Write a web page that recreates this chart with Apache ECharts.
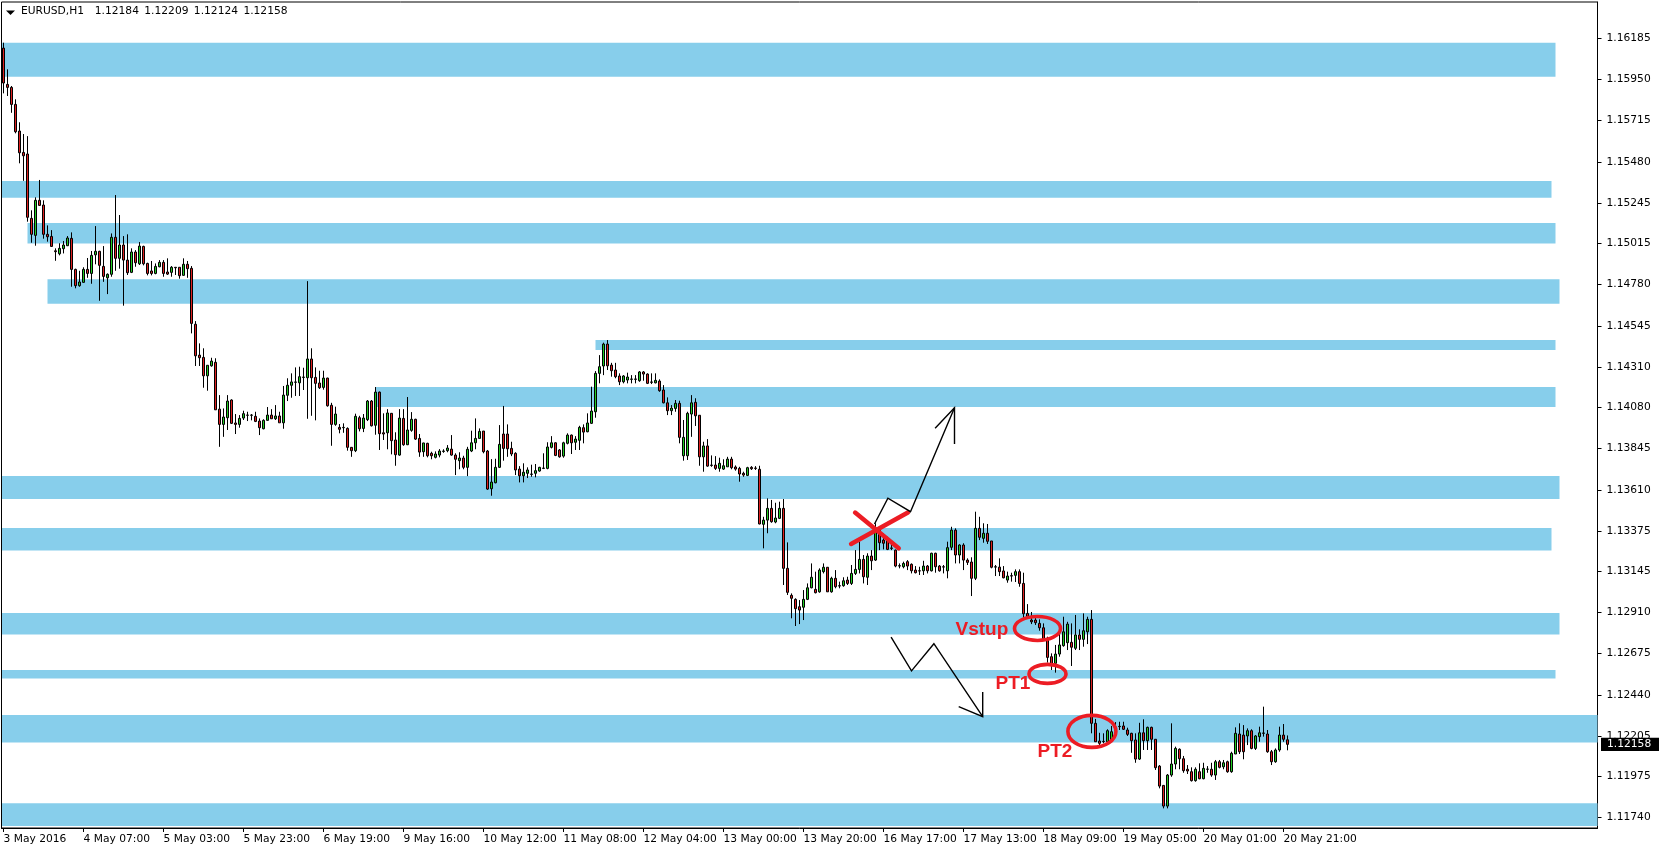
<!DOCTYPE html>
<html><head><meta charset="utf-8">
<script src="https://cdn.jsdelivr.net/npm/echarts@6/dist/echarts.min.js"></script>
<style>html,body{margin:0;padding:0;background:#fff;}#c{width:1659px;height:852px;}</style>
</head><body><div id="c"></div>
<script>
const symbolName = 'EURUSD,H1';
const xTickLabels = ['3 May 2016','4 May 07:00','5 May 03:00','5 May 23:00','6 May 19:00','9 May 16:00','10 May 12:00','11 May 08:00','12 May 04:00','13 May 00:00','13 May 20:00','16 May 17:00','17 May 13:00','18 May 09:00','19 May 05:00','20 May 01:00','20 May 21:00'];
const barsPerLabel = 20;
const totalSlots = 399;
const yTickLabels = ['1.16185','1.15950','1.15715','1.15480','1.15245','1.15015','1.14780','1.14545','1.14310','1.14080','1.13845','1.13610','1.13375','1.13145','1.12910','1.12675','1.12440','1.12205','1.11975','1.11740'];
const yMin = 1.11681, yMax = 1.16392;

const open = [
1.16129,1.15922,1.15905,1.15808,1.15656,1.15534,1.15525,1.15158,1.15061,1.15261,
1.15234,1.15067,1.15055,1.14973,1.14956,1.14985,1.15002,1.15044,1.14867,1.14774,
1.14793,1.14867,1.14844,1.14950,1.14970,1.14884,1.14819,1.14839,1.15050,1.14930,
1.15006,1.14920,1.14850,1.14966,1.14899,1.14998,1.14901,1.14858,1.14844,1.14882,
1.14907,1.14852,1.14850,1.14879,1.14879,1.14833,1.14896,1.14873,1.14554,1.14378,
1.14365,1.14260,1.14317,1.14337,1.14070,1.13983,1.14021,1.14122,1.13991,1.13983,
1.14019,1.14036,1.14035,1.14029,1.14002,1.13958,1.14006,1.14036,1.14015,1.14031,
1.13992,1.14149,1.14206,1.14223,1.14220,1.14251,1.14249,1.14356,1.14251,1.14219,
1.14194,1.14247,1.14092,1.13983,1.13966,1.13964,1.13960,1.13852,1.13833,1.14021,
1.13960,1.14010,1.14116,1.13978,1.14167,1.13935,1.13935,1.14046,1.13894,1.13808,
1.14017,1.13867,1.13949,1.14012,1.13903,1.13827,1.13875,1.13818,1.13795,1.13808,
1.13829,1.13833,1.13842,1.13808,1.13776,1.13791,1.13738,1.13831,1.13878,1.13903,
1.13945,1.13831,1.13616,1.13650,1.13738,1.13928,1.13928,1.13846,1.13818,1.13728,
1.13690,1.13704,1.13698,1.13704,1.13717,1.13732,1.13732,1.13852,1.13878,1.13837,
1.13802,1.13875,1.13922,1.13881,1.13892,1.13964,1.13941,1.13989,1.14055,1.14274,
1.14316,1.14441,1.14321,1.14293,1.14259,1.14226,1.14236,1.14240,1.14242,1.14232,
1.14282,1.14270,1.14225,1.14220,1.14230,1.14179,1.14106,1.14061,1.14074,1.14103,
1.13804,1.13804,1.14042,1.14109,1.14035,1.13798,1.13860,1.13751,1.13751,1.13732,
1.13728,1.13741,1.13785,1.13740,1.13732,1.13704,1.13692,1.13738,1.13734,1.13727,
1.13413,1.13437,1.13504,1.13426,1.13447,1.13504,1.13162,1.13008,1.12985,1.12943,
1.12940,1.12985,1.13051,1.13042,1.13028,1.13143,1.13168,1.13028,1.13105,1.13063,
1.13063,1.13095,1.13076,1.13133,1.13156,1.13213,1.13111,1.13232,1.13209,1.13380,
1.13323,1.13327,1.13278,1.13266,1.13177,1.13171,1.13200,1.13185,1.13152,1.13148,
1.13148,1.13175,1.13148,1.13248,1.13175,1.13171,1.13148,1.13282,1.13380,1.13238,
1.13295,1.13209,1.13198,1.13105,1.13390,1.13333,1.13362,1.13318,1.13171,1.13169,
1.13147,1.13095,1.13120,1.13122,1.13143,1.13076,1.12905,1.12867,1.12867,1.12848,
1.12823,1.12763,1.12658,1.12620,1.12673,1.12721,1.12738,1.12740,1.12706,1.12782,
1.12757,1.12800,1.12871,1.12278,1.12177,1.12173,1.12173,1.12183,1.12255,1.12259,
1.12263,1.12240,1.12221,1.12183,1.12074,1.12224,1.12179,1.12255,1.12187,1.12034,
1.11924,1.11806,1.11983,1.12046,1.12130,1.12076,1.12016,1.12002,1.11951,1.12002,
1.11962,1.12016,1.12016,1.11983,1.12059,1.12030,1.12059,1.12002,1.12103,1.12217,
1.12211,1.12206,1.12236,1.12135,1.12202,1.12221,1.12217,1.12116,1.12059,1.12126,
1.12211,1.12184
];
const close = [
1.15930,1.15905,1.15808,1.15652,1.15532,1.15515,1.15164,1.15067,1.15261,1.15232,
1.15067,1.15053,1.14998,1.14968,1.14987,1.15006,1.15046,1.14867,1.14774,1.14795,
1.14867,1.14844,1.14947,1.14970,1.14890,1.14827,1.14839,1.15050,1.14930,1.15006,
1.14920,1.14848,1.14966,1.14905,1.15000,1.14899,1.14844,1.14844,1.14884,1.14907,
1.14844,1.14840,1.14879,1.14876,1.14831,1.14896,1.14871,1.14559,1.14374,1.14363,
1.14260,1.14320,1.14344,1.14066,1.13983,1.14025,1.14116,1.13989,1.13983,1.14017,
1.14044,1.14035,1.14036,1.14000,1.13964,1.14006,1.14036,1.14015,1.14031,1.13992,
1.14150,1.14206,1.14225,1.14225,1.14255,1.14253,1.14356,1.14249,1.14217,1.14192,
1.14247,1.14089,1.13983,1.14042,1.13955,1.13966,1.13852,1.13833,1.14029,1.13958,
1.14019,1.14116,1.13975,1.14167,1.13930,1.13928,1.14048,1.13890,1.13810,1.14019,
1.13867,1.13951,1.14012,1.13899,1.13825,1.13877,1.13804,1.13804,1.13814,1.13831,
1.13831,1.13848,1.13808,1.13784,1.13791,1.13738,1.13841,1.13878,1.13903,1.13943,
1.13827,1.13614,1.13654,1.13738,1.13869,1.13846,1.13844,1.13814,1.13723,1.13690,
1.13710,1.13723,1.13700,1.13719,1.13738,1.13734,1.13854,1.13878,1.13806,1.13798,
1.13878,1.13922,1.13878,1.13899,1.13966,1.13939,1.13991,1.14059,1.14274,1.14312,
1.14441,1.14317,1.14289,1.14255,1.14226,1.14259,1.14253,1.14242,1.14240,1.14282,
1.14270,1.14217,1.14223,1.14234,1.14175,1.14106,1.14061,1.14076,1.14103,1.13909,
1.13909,1.14046,1.14106,1.14032,1.13798,1.13860,1.13745,1.13749,1.13732,1.13761,
1.13747,1.13785,1.13736,1.13728,1.13700,1.13694,1.13736,1.13730,1.13732,1.13415,
1.13437,1.13504,1.13428,1.13449,1.13504,1.13162,1.13025,1.12991,1.12932,1.12924,
1.12985,1.13051,1.13111,1.13023,1.13152,1.13168,1.13028,1.13105,1.13057,1.13061,
1.13091,1.13076,1.13133,1.13156,1.13213,1.13114,1.13232,1.13205,1.13380,1.13308,
1.13305,1.13270,1.13276,1.13175,1.13175,1.13190,1.13175,1.13148,1.13137,1.13147,
1.13175,1.13148,1.13248,1.13171,1.13148,1.13169,1.13280,1.13380,1.13238,1.13295,
1.13209,1.13196,1.13105,1.13390,1.13339,1.13362,1.13316,1.13168,1.13169,1.13143,
1.13108,1.13118,1.13118,1.13143,1.13076,1.12903,1.12888,1.12857,1.12852,1.12823,
1.12759,1.12654,1.12620,1.12673,1.12725,1.12800,1.12844,1.12712,1.12782,1.12757,
1.12806,1.12871,1.12278,1.12173,1.12164,1.12175,1.12236,1.12230,1.12257,1.12261,
1.12244,1.12215,1.12179,1.12074,1.12224,1.12179,1.12255,1.12187,1.12025,1.11920,
1.11806,1.11983,1.12046,1.12135,1.12076,1.12008,1.12006,1.11951,1.12016,1.11962,
1.12021,1.12017,1.11983,1.12059,1.12027,1.12053,1.12002,1.12107,1.12221,1.12116,
1.12116,1.12236,1.12135,1.12206,1.12224,1.12223,1.12116,1.12059,1.12126,1.12211,
1.12187,1.12158
];
const low = [
1.15871,1.15856,1.15760,1.15643,1.15472,1.15372,1.15139,1.15019,1.15002,1.15230,
1.15042,1.15025,1.14996,1.14916,1.14947,1.14958,1.15000,1.14768,1.14759,1.14768,
1.14791,1.14819,1.14785,1.14896,1.14688,1.14796,1.14726,1.14825,1.14859,1.14871,
1.14660,1.14835,1.14846,1.14882,1.14892,1.14890,1.14833,1.14833,1.14839,1.14879,
1.14825,1.14835,1.14825,1.14835,1.14814,1.14831,1.14819,1.14502,1.14316,1.14316,
1.14192,1.14175,1.14312,1.14065,1.13855,1.13912,1.13951,1.13985,1.13928,1.13964,
1.14008,1.14002,1.14006,1.13996,1.13922,1.13955,1.14004,1.14014,1.14008,1.13992,
1.13958,1.14116,1.14135,1.14145,1.14145,1.14179,1.14015,1.14032,1.14006,1.14185,
1.14181,1.14084,1.13861,1.13975,1.13932,1.13935,1.13833,1.13798,1.13825,1.13943,
1.13939,1.14002,1.13971,1.13924,1.13837,1.13894,1.13841,1.13812,1.13747,1.13804,
1.13861,1.13865,1.13941,1.13894,1.13798,1.13798,1.13795,1.13784,1.13789,1.13795,
1.13821,1.13824,1.13804,1.13694,1.13727,1.13727,1.13688,1.13825,1.13841,1.13903,
1.13818,1.13609,1.13576,1.13647,1.13734,1.13776,1.13798,1.13802,1.13694,1.13652,
1.13652,1.13677,1.13684,1.13681,1.13713,1.13728,1.13727,1.13846,1.13802,1.13793,
1.13793,1.13869,1.13814,1.13837,1.13837,1.13875,1.13938,1.13985,1.14021,1.14217,
1.14264,1.14293,1.14255,1.14246,1.14207,1.14217,1.14217,1.14217,1.14217,1.14226,
1.14232,1.14213,1.14213,1.14217,1.14169,1.14103,1.14036,1.14036,1.14055,1.13875,
1.13776,1.13780,1.13912,1.13974,1.13747,1.13713,1.13741,1.13741,1.13723,1.13713,
1.13723,1.13741,1.13727,1.13719,1.13656,1.13684,1.13688,1.13723,1.13723,1.13413,
1.13276,1.13362,1.13422,1.13419,1.13443,1.13067,1.13010,1.12877,1.12833,1.12844,
1.12867,1.12981,1.13048,1.13019,1.13023,1.13133,1.13027,1.13023,1.13048,1.13048,
1.13057,1.13067,1.13067,1.13124,1.13133,1.13076,1.13067,1.13152,1.13204,1.13266,
1.13270,1.13266,1.13266,1.13168,1.13162,1.13162,1.13152,1.13133,1.13133,1.13124,
1.13124,1.13133,1.13144,1.13137,1.13143,1.13133,1.13105,1.13266,1.13190,1.13190,
1.13152,1.13181,1.13004,1.13095,1.13323,1.13308,1.13301,1.13162,1.13118,1.13118,
1.13105,1.13080,1.13086,1.13084,1.13057,1.12877,1.12877,1.12844,1.12839,1.12806,
1.12753,1.12624,1.12582,1.12567,1.12658,1.12715,1.12696,1.12605,1.12696,1.12696,
1.12715,1.12730,1.12221,1.12172,1.12154,1.12164,1.12164,1.12173,1.12223,1.12240,
1.12240,1.12206,1.12110,1.12053,1.12069,1.12126,1.12126,1.12126,1.12012,1.11907,
1.11793,1.11793,1.11973,1.12016,1.12016,1.11996,1.11989,1.11946,1.11945,1.11959,
1.11959,1.11996,1.11973,1.11955,1.12021,1.12016,1.11996,1.11996,1.12103,1.12103,
1.12073,1.12154,1.12130,1.12126,1.12173,1.12202,1.12110,1.12040,1.12053,1.12116,
1.12173,1.12124
];
const high = [
1.16160,1.16008,1.15913,1.15837,1.15706,1.15639,1.15627,1.15204,1.15278,1.15377,
1.15261,1.15118,1.15091,1.14987,1.15016,1.15029,1.15057,1.15078,1.14871,1.14859,
1.14879,1.14932,1.14972,1.15114,1.14973,1.15000,1.14844,1.15072,1.15291,1.15177,
1.15057,1.15067,1.14987,1.14977,1.15023,1.15002,1.14905,1.14915,1.14901,1.14920,
1.14920,1.14930,1.14886,1.14880,1.14879,1.14930,1.14915,1.14886,1.14572,1.14445,
1.14417,1.14321,1.14363,1.14360,1.14150,1.14074,1.14150,1.14126,1.14042,1.14036,
1.14061,1.14055,1.14042,1.14055,1.14017,1.14012,1.14082,1.14070,1.14093,1.14055,
1.14202,1.14246,1.14274,1.14308,1.14312,1.14306,1.14800,1.14417,1.14308,1.14289,
1.14289,1.14249,1.14106,1.14084,1.13985,1.13989,1.13966,1.13854,1.14044,1.14032,
1.14042,1.14122,1.14122,1.14196,1.14170,1.14046,1.14070,1.14048,1.13938,1.14070,
1.14070,1.14139,1.14053,1.14015,1.13928,1.13878,1.13878,1.13827,1.13829,1.13842,
1.13841,1.13865,1.13922,1.13818,1.13824,1.13804,1.13855,1.13947,1.14017,1.13960,
1.13945,1.13837,1.13785,1.13787,1.13979,1.14088,1.13983,1.13884,1.13824,1.13745,
1.13761,1.13738,1.13753,1.13757,1.13741,1.13818,1.13881,1.13916,1.13881,1.13842,
1.13884,1.13932,1.13925,1.13916,1.13975,1.13983,1.14046,1.14198,1.14287,1.14378,
1.14449,1.14464,1.14334,1.14334,1.14274,1.14264,1.14278,1.14264,1.14264,1.14287,
1.14287,1.14274,1.14274,1.14274,1.14240,1.14207,1.14137,1.14093,1.14122,1.14118,
1.14008,1.14055,1.14150,1.14132,1.14036,1.13884,1.13899,1.13806,1.13802,1.13793,
1.13784,1.13798,1.13798,1.13749,1.13741,1.13713,1.13741,1.13745,1.13745,1.13747,
1.13456,1.13561,1.13552,1.13536,1.13542,1.13557,1.13310,1.13019,1.12991,1.12981,
1.13038,1.13076,1.13190,1.13143,1.13162,1.13190,1.13169,1.13114,1.13152,1.13086,
1.13111,1.13114,1.13181,1.13266,1.13314,1.13238,1.13248,1.13266,1.13419,1.13399,
1.13362,1.13342,1.13323,1.13269,1.13190,1.13200,1.13209,1.13190,1.13175,1.13171,
1.13205,1.13181,1.13251,1.13251,1.13181,1.13181,1.13314,1.13399,1.13390,1.13299,
1.13305,1.13219,1.13225,1.13485,1.13456,1.13419,1.13415,1.13318,1.13181,1.13219,
1.13175,1.13143,1.13137,1.13156,1.13156,1.13137,1.12958,1.12913,1.12886,1.12871,
1.12848,1.12772,1.12677,1.12725,1.12791,1.12886,1.12857,1.12848,1.12896,1.12814,
1.12905,1.12886,1.12924,1.12303,1.12224,1.12221,1.12244,1.12263,1.12285,1.12287,
1.12287,1.12253,1.12224,1.12221,1.12281,1.12301,1.12259,1.12259,1.12188,1.12040,
1.11926,1.11989,1.12278,1.12145,1.12135,1.12092,1.12040,1.12027,1.12027,1.12050,
1.12053,1.12034,1.12053,1.12069,1.12069,1.12069,1.12065,1.12116,1.12255,1.12278,
1.12268,1.12249,1.12244,1.12211,1.12259,1.12373,1.12240,1.12126,1.12135,1.12259,
1.12274,1.12209
];

// Support / resistance zones (price bands, bar index anchors; null = chart edge)
const zoneHigh = [1.16160,1.15371,1.15132,1.14811,1.14464,1.14196,1.13689,1.13392,1.12907,1.12582,1.12326,1.11822];
const zoneLow  = [1.15966,1.15276,1.15014,1.14671,1.14407,1.14082,1.13558,1.13263,1.12784,1.12533,1.12168,1.11693];
const zoneFrom = [null,null,6,11,148,93,null,null,null,null,null,null];
const zoneTo   = [388,387,388,389,388,388,389,387,389,388,null,null];

// Hand-drawn annotations anchored at (bar index, price)
const crossStroke1 = [[212.9,1.13480],[223.8,1.13276]];
const crossStroke2 = [[211.9,1.13301],[226.1,1.13480]];
const upPath = [[217.75,1.13415],[221.1,1.13562],[226.75,1.13485],[237.75,1.14078]];
const upHead = [[232.9,1.13961],[237.75,1.14078],[237.75,1.13871]];
const downPath = [[221.9,1.12769],[227,1.12577],[232.6,1.12732],[244.8,1.12316]];
const downHead = [[238.8,1.12373],[244.8,1.12316],[244.8,1.12457]];
const ellipseCenters = [[258.5,1.12819],[261,1.12560],[272.1,1.12232]];
const labelTexts = ['Vstup','PT1','PT2'];
const labelAnchors = [[238,1.12814],[248,1.12501],[258.5,1.12115]];

const FONT = 'DejaVu Sans';
const FS = 10.7;
const W = 1659, GRID_RIGHT = 61.5;
const last = close.length - 1;
const fmt = v => v.toFixed(5);
const SP = '\u2002';
const slots = Array.from({length: totalSlots}, (_, i) => String(i));
const candleData = open.map((o, i) => [o, close[i], low[i], high[i]]);
const isLabelSlot = i => i % barsPerLabel === 0 && (i / barsPerLabel) < xTickLabels.length;

const chart = echarts.init(document.getElementById('c'), null, {renderer: 'canvas'});
const option = {
  animation: false,
  backgroundColor: '#ffffff',
  title: {
    text: symbolName + SP + SP + fmt(open[last]) + SP + fmt(high[last]) + SP + fmt(low[last]) + SP + fmt(close[last]),
    left: 21, top: 6, padding: 0,
    textStyle: {fontFamily: FONT, fontSize: FS, fontWeight: 'normal', color: '#000'}
  },
  grid: {left: 1.5, right: GRID_RIGHT, top: 2, bottom: 24, show: true, borderColor: '#000', borderWidth: 1, backgroundColor: 'transparent'},
  xAxis: {
    type: 'category', data: slots, boundaryGap: true,
    axisLine: {lineStyle: {color: '#000', width: 1}},
    axisTick: {show: true, interval: isLabelSlot, alignWithLabel: true, length: 4, lineStyle: {color: '#000'}},
    axisLabel: {show: true, interval: isLabelSlot, align: 'left', margin: 6, color: '#000', fontFamily: FONT, fontSize: FS,
      formatter: (v, idx) => xTickLabels[Math.round(idx / barsPerLabel)] || ''},
    splitLine: {show: false}
  },
  yAxis: {
    type: 'value', position: 'right', min: yMin, max: yMax, scale: true,
    axisLine: {show: true, lineStyle: {color: '#000', width: 1}},
    axisTick: {show: true, length: 4, lineStyle: {color: '#000'}, customValues: yTickLabels.map(Number)},
    axisLabel: {show: true, margin: 9, color: '#000', fontFamily: FONT, fontSize: FS, align: 'left',
      customValues: yTickLabels.map(Number), formatter: v => v.toFixed(5)},
    splitLine: {show: false}
  },
  series: [
    {
      type: 'custom', z: 1, silent: true,
      data: zoneHigh.map((v, i) => [0, v]),
      renderItem: function (params, api) {
        const k = params.dataIndex;
        const cs = params.coordSys;
        const yt = api.coord([0, zoneHigh[k]])[1];
        const yb = api.coord([0, zoneLow[k]])[1];
        const x0 = zoneFrom[k] == null ? cs.x + 0.5 : api.coord([zoneFrom[k], zoneHigh[k]])[0];
        const x1 = zoneTo[k] == null ? cs.x + cs.width : api.coord([zoneTo[k], zoneHigh[k]])[0];
        return {type: 'rect', shape: {x: x0, y: yt, width: x1 - x0, height: yb - yt}, style: {fill: '#87CEEB'}};
      }
    },
    {
      type: 'candlestick', z: 3, silent: true,
      data: candleData,
      barWidth: 2,
      itemStyle: {color: '#22CC22', color0: '#DD2020', borderColor: '#000', borderColor0: '#000', borderColorDoji: '#000', borderWidth: 1}
    }
  ]
};
chart.setOption(option);

function px(s, p) {
  const s0 = Math.floor(s);
  const a = chart.convertToPixel({gridIndex: 0}, [s0, p]);
  const b = chart.convertToPixel({gridIndex: 0}, [s0 + 1, p]);
  return [a[0] + (s - s0) * (b[0] - a[0]), a[1]];
}
const RED = '#EC1C24';
const g = [];
g.push({type: 'polygon', shape: {points: [[6, 10.5], [15, 10.5], [10.5, 15]]}, style: {fill: '#000'}, z: 100});
[crossStroke1, crossStroke2].forEach(s => g.push({type: 'polyline', shape: {points: s.map(q => px(q[0], q[1]))}, style: {stroke: RED, lineWidth: 4.5, lineCap: 'round', fill: null}, z: 100}));
[upPath, upHead, downPath, downHead].forEach(s => g.push({type: 'polyline', shape: {points: s.map(q => px(q[0], q[1]))}, style: {stroke: '#000', lineWidth: 1.4, fill: null}, z: 100}));
const ellipseRadii = [[23, 12], [18.5, 9.5], [24, 16]];
ellipseCenters.forEach((c, i) => {
  const p = px(c[0], c[1]);
  g.push({type: 'ellipse', shape: {cx: p[0], cy: p[1], rx: ellipseRadii[i][0], ry: ellipseRadii[i][1]}, style: {stroke: RED, lineWidth: 3.6, fill: 'none'}, z: 100});
});
labelTexts.forEach((t, i) => {
  const p = px(labelAnchors[i][0], labelAnchors[i][1]);
  g.push({type: 'text', x: p[0], y: p[1], style: {text: t, fill: RED, fontFamily: 'Liberation Sans', fontWeight: 'bold', fontSize: 19, align: 'left', verticalAlign: 'middle'}, z: 100});
});
// current price tag on the price axis
const axisX = W - GRID_RIGHT;
const yLast = chart.convertToPixel({yAxisIndex: 0}, close[last]);
g.push({type: 'rect', shape: {x: axisX + 3.5, y: yLast - 6.7, width: W - axisX - 3.5, height: 13.4}, style: {fill: '#000'}, z: 101});
g.push({type: 'text', x: axisX + 9.5, y: yLast, style: {text: fmt(close[last]), fill: '#fff', fontFamily: FONT, fontSize: FS, align: 'left', verticalAlign: 'middle'}, z: 102});
chart.setOption({graphic: g});
</script>
</body></html>
